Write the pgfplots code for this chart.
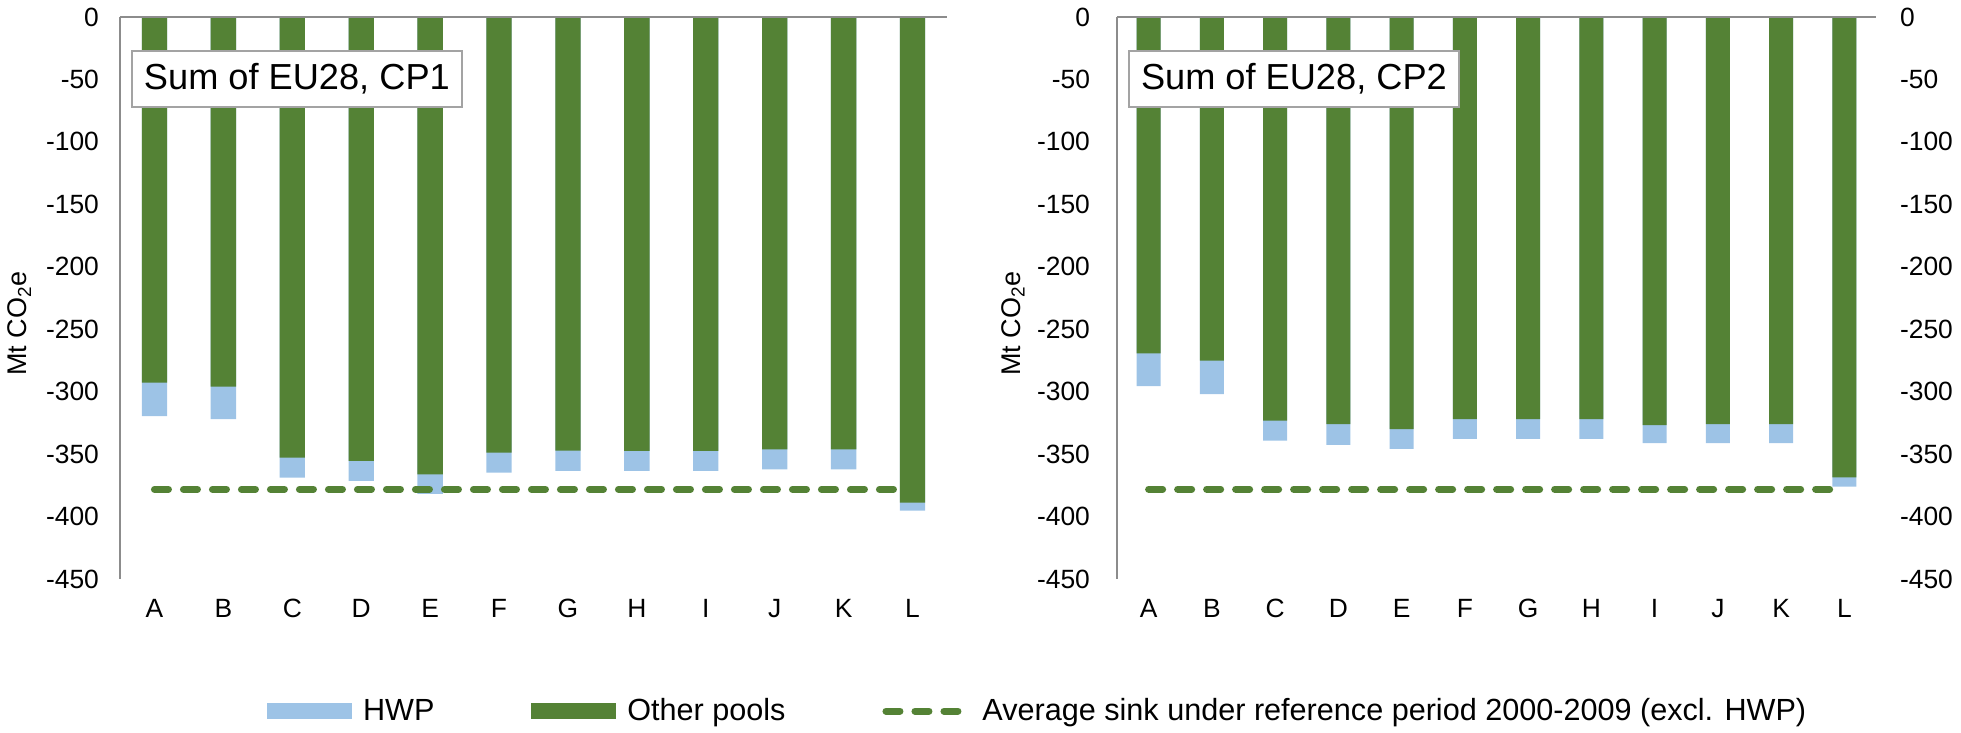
\documentclass[border=0pt]{standalone}
\usepackage{fontspec}
\setmainfont{Liberation Sans}
\usepackage{pgfplots}
\usepackage{pgfplotstable}
\pgfplotsset{compat=1.18}
\definecolor{grn}{HTML}{548235}
\definecolor{hwp}{HTML}{9DC3E6}
\definecolor{axgray}{HTML}{8C8C8C}

% x: category index, g: other pools (end of green bar), t: total incl. HWP
\pgfplotstableread{
x g t
0 -292.8 -319.5
1 -296.0 -321.9
2 -352.9 -368.9
3 -355.5 -371.5
4 -366.2 -381.9
5 -348.9 -364.9
6 -347.3 -363.5
7 -347.5 -363.5
8 -347.5 -363.5
9 -346.2 -362.2
10 -346.2 -362.2
11 -388.9 -395.3
}\cpone
\pgfplotstableread{
x g t
0 -269.3 -295.5
1 -275.2 -301.9
2 -323.2 -339.3
3 -325.9 -342.7
4 -329.9 -345.9
5 -321.9 -337.9
6 -321.9 -337.9
7 -321.9 -337.9
8 -326.7 -341.3
9 -325.9 -341.3
10 -325.9 -341.3
11 -368.6 -376.1
}\cptwo

\tikzset{
  titlebox/.style={draw=axgray!80, line width=1pt, fill=white, anchor=west,
    font=\fontsize{18.1}{22}\selectfont, minimum height=28pt, inner xsep=6pt},
  refline/.style={sharp plot, grn, line width=3.5pt, dash pattern=on 7pt off 7.5pt, line cap=round},
}

\begin{document}
\begin{tikzpicture}
\pgfplotsset{
  base/.style={
    scale only axis, height=281pt,
    ymin=-450, ymax=0, xmin=-0.5, xmax=11.5,
    ytick={-450,-400,...,0},
    xtick={0,...,11},
    xticklabels={A,B,C,D,E,F,G,H,I,J,K,L},
    major tick length=0pt, minor tick num=0,
    axis y line*=left, axis x line*=bottom,
    x axis line style={draw=none},
    y axis line style={draw=axgray, line width=1pt},
    tick label style={font=\fontsize{13.2}{15}\selectfont},
    xticklabel style={yshift=-6.5pt},
    /pgf/number format/assume math mode=true,
    ylabel={Mt CO\textsubscript{2}e},
    ylabel style={font=\fontsize{13.5}{16}\selectfont, anchor=center},
    clip=false,
  },
}

% ---------------- Left panel (CP1) ----------------
\begin{axis}[base, name=L, at={(0pt,0pt)}, anchor=south west, width=413.5pt,
    yticklabel style={xshift=-7pt},
    ylabel style={at={(axis description cs:-0.1215,0.455)}},
    legend style={at={(axis description cs:1.111,-0.235)}, anchor=center,
      draw=none, fill=none, font=\fontsize{15.3}{18}\selectfont,
      legend columns=3,
      /tikz/every odd column/.append style={column sep=3.5pt},
      /tikz/every even column/.append style={column sep=46.5pt}},
  ]
  \addplot[ybar, bar width=12.7pt, bar shift=0pt, fill=hwp, draw=none, forget plot] table[x=x, y=t] {\cpone};
  \addplot[ybar, bar width=12.7pt, bar shift=0pt, fill=grn, draw=none, forget plot] table[x=x, y=g] {\cpone};
  \addplot[refline, forget plot] coordinates {(0,-378.2) (11,-378.2)};
  \draw[axgray, line width=1pt] (rel axis cs:0,1) -- (rel axis cs:1,1);
  \node[titlebox] at ([xshift=5.5pt, yshift=-31pt]rel axis cs:0,1) {Sum of EU28, CP1};
  \addlegendimage{legend image code/.code={\fill[hwp] (0pt,-3.75pt) rectangle (42pt,3.75pt);}}
  \addlegendentry{HWP}
  \addlegendimage{legend image code/.code={\fill[grn] (0pt,-3.75pt) rectangle (42pt,3.75pt);}}
  \addlegendentry{Other pools}
  \addlegendimage{legend image code/.code={\draw[grn, line width=3.5pt, dash pattern=on 7pt off 7.5pt, line cap=round] (2pt,0pt) -- (43pt,0pt);}}
  \addlegendentry{Average sink under reference period 2000-2009 (excl. HWP)}
\end{axis}

% ---------------- Right panel (CP2) ----------------
\begin{axis}[base, name=R, at={(498.5pt,0pt)}, anchor=south west, width=379.5pt,
    yticklabel style={xshift=-10pt},
    ylabel style={at={(axis description cs:-0.137,0.455)}},
  ]
  \addplot[ybar, bar width=12pt, bar shift=0pt, fill=hwp, draw=none, forget plot] table[x=x, y=t] {\cptwo};
  \addplot[ybar, bar width=12pt, bar shift=0pt, fill=grn, draw=none, forget plot] table[x=x, y=g] {\cptwo};
  \addplot[refline, forget plot] coordinates {(0,-378.2) (11,-378.2)};
  \draw[axgray, line width=1pt] (rel axis cs:0,1) -- (rel axis cs:1,1);
  \node[titlebox] at ([xshift=5.5pt, yshift=-31pt]rel axis cs:0,1) {Sum of EU28, CP2};
\end{axis}

% right-hand tick labels of the right panel
\begin{axis}[scale only axis, at={(498.5pt,0pt)}, anchor=south west, width=379.5pt, height=281pt,
    ymin=-450, ymax=0, xmin=-0.5, xmax=11.5,
    ytick={-450,-400,...,0},
    axis y line*=right, axis x line=none,
    y axis line style={draw=none},
    major tick length=0pt,
    tick label style={font=\fontsize{13.2}{15}\selectfont},
    yticklabel style={xshift=8.5pt},
    /pgf/number format/assume math mode=true,
  ]
  \addplot[draw=none, forget plot] coordinates {(0,0)};
\end{axis}

\pgfresetboundingbox
\path (-60pt,-77pt) rectangle (920.5pt,289.5pt);
\end{tikzpicture}
\end{document}
